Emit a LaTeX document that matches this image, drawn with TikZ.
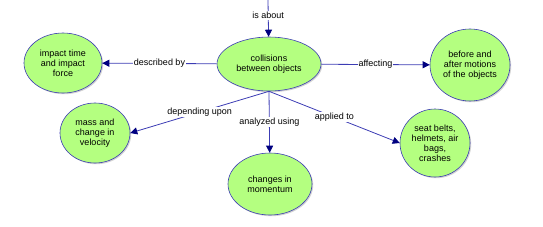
\documentclass[tikz,border=0pt]{standalone}
\usepackage{fontspec}
\setmainfont{Liberation Sans}
\usepackage{tikz}
\usetikzlibrary{shapes.geometric,shadows,arrows.meta}
\definecolor{conceptfill}{RGB}{180,255,128}
\definecolor{conceptline}{RGB}{60,60,180}
\definecolor{tipnavy}{RGB}{0,0,128}
\tikzset{
    concept/.style={ % green ellipses
        ellipse, draw=conceptline, fill=conceptfill, semithick,
        inner sep=0pt, align=center, font=\fontsize{9}{10}\selectfont,
        drop shadow={shadow xshift=1.2pt, shadow yshift=-1.2pt, fill=black!35}
    },
    link/.style={draw=conceptline, thick, -{Triangle[length=7pt,width=7pt,color=tipnavy]}},
    lbl/.style={fill=white, inner sep=1pt, font=\fontsize{9}{10}\selectfont}
}

\begin{document}
\begin{tikzpicture}[x=1pt,y=-1pt]
    \useasboundingbox (0,0) rectangle (543,226);
    \node[concept, minimum width=104pt, minimum height=54pt] (coll) at (269,64) {collisions\\between objects};
    \node[concept, minimum width=78pt, minimum height=60pt] (impact) at (63,63) {impact time\\and impact\\force};
    \node[concept, minimum width=80pt, minimum height=72pt] (motion) at (470,65) {before and\\after motions\\of the objects};
    \node[concept, minimum width=70pt, minimum height=60pt] (mass) at (95,133) {mass and\\change in\\velocity};
    \node[concept, minimum width=84pt, minimum height=62pt] (momentum) at (270,184) {changes in\\momentum};
    \node[concept, minimum width=70pt, minimum height=68pt] (seat) at (435,143) {seat belts,\\helmets, air\\bags,\\crashes};
    \coordinate (top) at (268,0);

    \draw[link] (top) -- node[lbl, pos=0.42] (about) {is about} (coll);
    \draw[link] (coll) -- node[lbl] (described) {described by} (impact);
    \draw[link] (coll) -- node[lbl] (affecting) {affecting} (motion);
    \draw[link] (coll.south) -- node[lbl] (depending) {depending upon} (mass.east);
    \draw[link] (coll.south) -- node[lbl] (analyzed) {analyzed using} (momentum);
    \draw[link] (coll.south) -- node[lbl] (applied) {applied to} (seat.west);
\end{tikzpicture}
\end{document}
